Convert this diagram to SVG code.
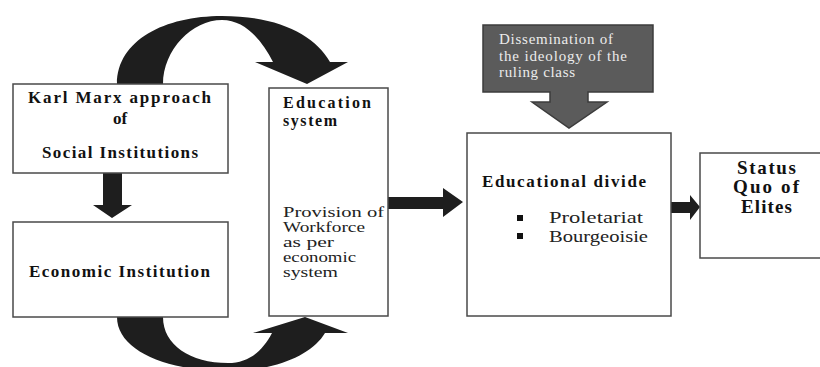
<svg xmlns="http://www.w3.org/2000/svg" width="820" height="367" viewBox="0 0 820 367">
<style>
.box{fill:#fff;stroke:#4a4a4a;stroke-width:1.5}
.arr{fill:#1e1e1e}
.b{font-family:"Liberation Serif","Times New Roman",serif;font-weight:bold;fill:#111}
.r{font-family:"Liberation Serif","Times New Roman",serif;fill:#222}
.w{font-family:"Liberation Serif","Times New Roman",serif;fill:#ececec;font-size:15px}
</style>
<rect width="820" height="367" fill="#fff"/>
<g id="connectors">
<path class="arr" d="M117,84 L163,84 C163,50 192,20 222,20 C245,20 262,40 273,62 L255,62 L307,84 L348,62 L330,62 C315,35 278,16 222,16 C165,16 117,40 117,84 Z"/>
<path class="arr" d="M117,317 L163,317 C163,345 190,363 228,363 C248,363 262,352 272,333 L253,333 L305,317 L348,333 L325,333 C312,355 275,371 228,371 C165,371 117,350 117,317 Z"/>
<path class="arr" d="M103,173 L122,173 L122,205 L132,205 L112,218 L93,205 L103,205 Z"/>
<path class="arr" d="M388,197 L443,197 L443,188 L463,202 L443,217 L443,209 L388,209 Z"/>
<path class="arr" d="M671,202 L690,202 L690,195 L700,207 L690,220 L690,213 L671,213 Z"/>
</g>
<g id="karl-marx">
<rect class="box" x="13" y="84" width="215" height="89"/>
<text class="b" font-size="17" x="28" y="103" textLength="183" lengthAdjust="spacing">Karl Marx approach</text>
<text class="b" font-size="17" x="120" y="124" text-anchor="middle">of</text>
<text class="b" font-size="17" x="42" y="158" textLength="156" lengthAdjust="spacing">Social Institutions</text>
</g>
<g id="economic">
<rect class="box" x="13" y="222" width="215" height="95"/>
<text class="b" font-size="17" x="29" y="277" textLength="181" lengthAdjust="spacing">Economic Institution</text>
</g>
<g id="education">
<rect class="box" x="269" y="88" width="119" height="228"/>
<text class="b" font-size="16" x="283" y="108" textLength="88" lengthAdjust="spacing">Education</text>
<text class="b" font-size="16" x="283" y="126" textLength="54" lengthAdjust="spacing">system</text>
<text class="r" font-size="14">
<tspan x="283" y="217" textLength="101" lengthAdjust="spacingAndGlyphs">Provision of</tspan>
<tspan x="283" y="232" textLength="82" lengthAdjust="spacingAndGlyphs">Workforce</tspan>
<tspan x="283" y="247" textLength="51" lengthAdjust="spacingAndGlyphs">as per</tspan>
<tspan x="283" y="262" textLength="73" lengthAdjust="spacingAndGlyphs">economic</tspan>
<tspan x="283" y="277" textLength="55" lengthAdjust="spacingAndGlyphs">system</tspan>
</text>
</g>
<g id="dissemination">
<path d="M483,25 L653,25 L653,92 L588,92 L588,102 L607,102 L569,128 L532,102 L550,102 L550,92 L483,92 Z" fill="#5b5b5b" stroke="#3c3c3c" stroke-width="1.5"/>
<text class="w">
<tspan x="499" y="44" textLength="114" lengthAdjust="spacing">Dissemination of</tspan>
<tspan x="499" y="61" textLength="128" lengthAdjust="spacing">the ideology of the</tspan>
<tspan x="499" y="77" textLength="76" lengthAdjust="spacing">ruling class</tspan>
</text>
</g>
<g id="educational-divide">
<rect class="box" x="467" y="133" width="204" height="183"/>
<text class="b" font-size="17" x="482" y="187" textLength="164" lengthAdjust="spacing">Educational divide</text>
<rect x="517" y="215" width="6" height="6" fill="#111"/>
<rect x="517" y="233" width="6" height="6" fill="#111"/>
<text class="r" font-size="17" x="549" y="223" textLength="94" lengthAdjust="spacingAndGlyphs">Proletariat</text>
<text class="r" font-size="17" x="549" y="242" textLength="99" lengthAdjust="spacingAndGlyphs">Bourgeoisie</text>
</g>
<g id="status-quo">
<rect class="box" x="700" y="153" width="125" height="105"/>
<text class="b" font-size="19">
<tspan x="737" y="174" textLength="59" lengthAdjust="spacing">Status</tspan>
<tspan x="733" y="193" textLength="66" lengthAdjust="spacing">Quo of</tspan>
<tspan x="741" y="213" textLength="51" lengthAdjust="spacing">Elites</tspan>
</text>
</g>
</svg>
